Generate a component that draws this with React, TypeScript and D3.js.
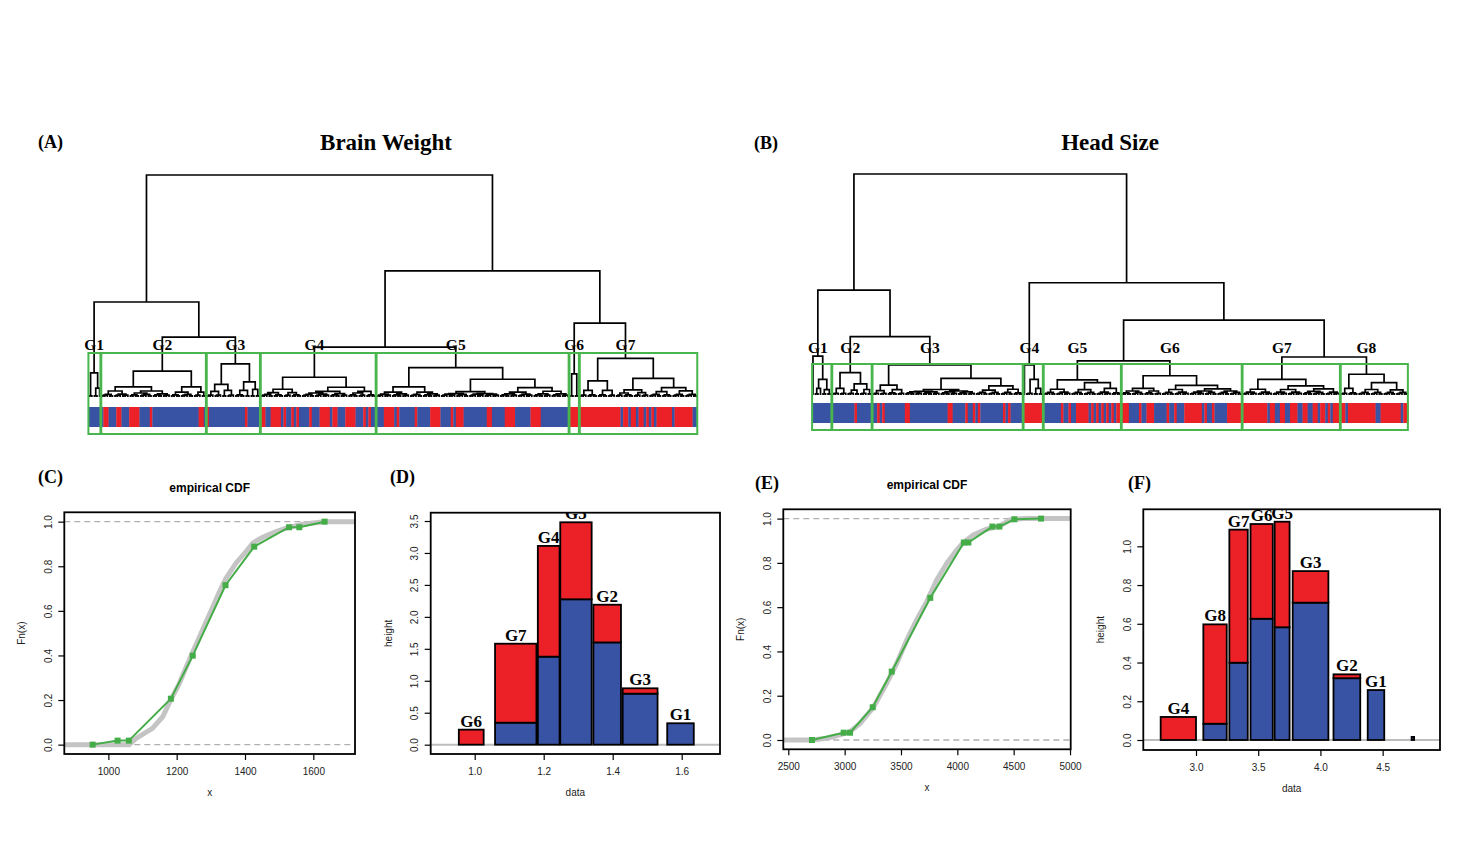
import { useEffect, useRef } from 'react'
import * as d3 from 'd3'

// a tree node is a tuft of n leaves (number), a cluster name (string), or [height, left, right]
type TreeNode = number | string | [number, TreeNode, TreeNode]

const RED = '#ec2027'
const BLUE = '#3953a4'
const BOX_GREEN = '#49b54d'
const LINE_GREEN = '#45ad48'
const SERIF = "'Liberation Serif', 'Times New Roman', serif"
const SANS = "'Liberation Sans', Arial, Helvetica, sans-serif"

// merge heights inside the small leaf tufts, indexed by tuft size
const tuftHeights = [0, 0, 0.5, 0.8, 1.0, 1.15, 1.3, 1.4]

// ---------- (A) brain weight clustering ----------
const groupNamesA = ['G1', 'G2', 'G3', 'G4', 'G5', 'G6', 'G7']
const upperTreeA: TreeNode = [100, [42.8, 'G1', [27, 'G2', 'G3']], [56.8, [22.5, 'G4', 'G5'], [33.3, 'G6', 'G7']]]
const subtreesA: TreeNode[] = [
  [10.9, 2, [4, 2, 1]],
  [11.7, [4.6, [2.7, 5, 6], [2.7, [1.8, 4, 5], 7]], [4.6, [2.2, 4, 5], [2.2, 3, 2]]],
  [14.9, [5.7, [2.5, 3, 3], [3.0, 2, 3]], [6.8, [3.0, 4, 2], [3.4, 2, 2]]],
  [8.9, [3.5, [2.0, 5, 4], [2.0, 3, 4]], [4.4, [2.5, [1.8, 5, 6], [1.5, 4, 3]], [2.5, [1.8, 4, 3], 4]]],
  [13.2, [4.6, [2.2, 6, 7], [2.2, 5, 7]], [8.0, [2.4, [1.5, 6, 5], [1.5, 6, 6]], [4.2, [2.2, 7, 6], [2.6, 7, 7]]]],
  [10.4, 2, 2],
  [17.4, [7.3, [3.0, 3, 4], [3.0, 4, 3]], [8.4, [3.2, [1.8, 3, 4], [2.0, 3, 3]], [4.2, [2.4, 5, 4], [2.8, 5, 5]]]],
]
// sex of each leaf as alternating run lengths, starting with blue
const stripRunsA = [
  6, 2, 3, 2, 3, 4, 4, 1, 18, 2, 1, 1, 14, 1, 5, 2, 2, 4, 1, 1, 2, 1, 1, 1, 4, 1, 3, 4, 1, 2, 3, 4, 3, 1, 1, 1, 5,
  4, 1, 1, 6, 1, 5, 4, 4, 1, 1, 3, 9, 2, 5, 4, 6, 4, 11, 20, 1, 2, 1, 2, 1, 2, 1, 1, 1, 1, 1, 6, 1, 7, 2,
]

// ---------- (B) head size clustering ----------
const groupNamesB = ['G1', 'G2', 'G3', 'G4', 'G5', 'G6', 'G7', 'G8']
const upperTreeB: TreeNode = [100, [47.5, 'G1', [26.4, 'G2', 'G3']], [50.8, 'G4', [33.9, [15.4, 'G5', 'G6'], [17.2, 'G7', 'G8']]]]
const subtreesB: TreeNode[] = [
  [17.6, 1, [7.1, [3.0, 2, 1], [2.4, 2, 2]]],
  [10.1, [3.0, 3, 3], [5.0, [2.2, 3, 2], [2.5, 3, 2]]],
  [13.6, [4.5, [2.0, 3, 3], [2.4, 4, 3]], [7.5, [2.5, [1.6, 7, 7], [1.8, 7, 7]], [4.1, [2.2, 5, 5], [2.6, 5, 4]]]],
  [13.6, 1, [7.1, 3, [3.0, 2, 2]]],
  [6.8, [2.6, 5, 6], [5.6, [2.4, 5, 5], [3.0, 6, 4]]],
  [8.7, [3.0, [1.8, 4, 5], [1.8, 4, 3]], [4.4, [2.5, 5, 6], [2.8, [1.8, 6, 5], [1.8, 5, 5]]]],
  [7.1, [2.6, 6, 6], [4.1, [2.5, 6, 6], [2.8, [1.6, 4, 5], 6]]],
  [9.4, [3.0, 3, 4], [5.6, [2.5, 5, 5], [2.3, 5, 5]]],
]
const stripRunsB = [
  17, 1, 8, 1, 1, 1, 8, 2, 15, 2, 5, 1, 2, 1, 1, 1, 9, 1, 1, 1, 5, 8, 7, 1, 2, 1, 2, 5, 1, 1, 1, 1, 1, 1, 1, 1, 1, 1,
  1, 5, 4, 1, 2, 3, 5, 1, 2, 1, 3, 7, 1, 1, 2, 1, 5, 16, 1, 2, 2, 2, 2, 3, 2, 2, 2, 2, 1, 2, 1, 1, 1, 5, 1, 11, 2, 8, 1, 2,
]

// ---------- (C) empirical CDF, brain weight ----------
const ecdfXC = [1061, 1081, 1129, 1159, 1178, 1208, 1227, 1247, 1266, 1286, 1305, 1325, 1344, 1374, 1403, 1423, 1452, 1491, 1530, 1569, 1631]
const ecdfYC = [0, 0.028, 0.073, 0.125, 0.186, 0.275, 0.345, 0.415, 0.48, 0.55, 0.615, 0.685, 0.745, 0.815, 0.865, 0.905, 0.93, 0.955, 0.975, 0.988, 1.0]
const groupCdfXC = [954, 1027, 1060, 1183, 1247, 1343, 1427, 1529, 1559, 1633]
const groupCdfYC = [0, 0.018, 0.018, 0.206, 0.399, 0.715, 0.888, 0.975, 0.975, 1.0]
const xTicksC = [1000, 1200, 1400, 1600]

// ---------- (D) group heights, brain weight ----------
const barLabelsD = ['G6', 'G7', 'G4', 'G5', 'G2', 'G3', 'G1']
const barLowD = [0.954, 1.059, 1.183, 1.248, 1.344, 1.429, 1.558]
const barHighD = [1.026, 1.179, 1.246, 1.339, 1.424, 1.53, 1.635]
const barTotalD = [0.235, 1.58, 3.11, 3.48, 2.19, 0.882, 0.335]
const barBlueD = [0, 0.344, 1.377, 2.275, 1.6, 0.798, 0.335]
const xTicksD = [1.0, 1.2, 1.4, 1.6]
const yTicksD = [0, 0.5, 1.0, 1.5, 2.0, 2.5, 3.0, 3.5]

// ---------- (E) empirical CDF, head size ----------
const ecdfXE = [2710, 2841, 2959, 3048, 3137, 3255, 3373, 3462, 3551, 3639, 3728, 3817, 3906, 3994, 4053, 4142, 4260, 4379, 4467, 4586]
const ecdfYE = [0, 0.008, 0.023, 0.038, 0.075, 0.148, 0.256, 0.346, 0.452, 0.542, 0.625, 0.723, 0.798, 0.858, 0.892, 0.926, 0.952, 0.967, 0.994, 1.0]
const groupCdfXE = [2710, 2991, 3048, 3249, 3418, 3760, 4058, 4098, 4311, 4373, 4506, 4743]
const groupCdfYE = [0, 0.033, 0.033, 0.148, 0.309, 0.642, 0.892, 0.892, 0.964, 0.964, 0.997, 1.0]
const xTicksE = [2500, 3000, 3500, 4000, 4500, 5000]

// ---------- (F) group heights, head size ----------
const barLabelsF = ['G4', 'G8', 'G7', 'G6', 'G5', 'G3', 'G2', 'G1', '']
const barLowF = [2.716, 3.059, 3.268, 3.438, 3.632, 3.777, 4.105, 4.38, 4.733]
const barHighF = [3.0, 3.247, 3.416, 3.617, 3.752, 4.064, 4.32, 4.513, 4.753]
const barTotalF = [0.119, 0.597, 1.086, 1.115, 1.127, 0.872, 0.339, 0.258, 0.016]
const barBlueF = [0, 0.084, 0.399, 0.626, 0.582, 0.709, 0.319, 0.258, 0.016]
const xTicksF = [3.0, 3.5, 4.0, 4.5]
const yTicksF = [0, 0.2, 0.4, 0.6, 0.8, 1.0]

const cdfTicks = [0, 0.2, 0.4, 0.6, 0.8, 1.0]

type Sel = d3.Selection<SVGGElement, unknown, null, undefined>
interface Rect { left: number; right: number; top: number; bottom: number }

function layoutTree(top: TreeNode, names: string[], subtrees: TreeNode[]) {
  let leaf = 0
  const links: { h: number; l: { x: number; h: number }; r: { x: number; h: number } }[] = []
  const groups: { name: string; start: number; count: number; x: number }[] = []
  const build = (node: TreeNode): { x: number; h: number } => {
    if (typeof node === 'string') {
      const start = leaf
      const res = build(subtrees[names.indexOf(node)])
      groups.push({ name: node, start, count: leaf - start, x: res.x })
      return res
    }
    if (typeof node === 'number') {
      if (node <= 1) {
        leaf += 1
        return { x: leaf, h: 0 }
      }
      const a = Math.ceil(node / 2)
      const l = build(a)
      const r = build(node - a)
      const h = tuftHeights[Math.min(node, tuftHeights.length - 1)]
      links.push({ h, l, r })
      return { x: (l.x + r.x) / 2, h }
    }
    const [h, a, b] = node
    const l = build(a)
    const r = build(b)
    links.push({ h, l, r })
    return { x: (l.x + r.x) / 2, h }
  }
  build(top)
  return { links, groups, n: leaf }
}

function drawDendrogram(
  svg: Sel,
  o: {
    tree: TreeNode; names: string[]; subtrees: TreeNode[]; runs: number[]
    x0: number; x1: number; base: number; top: number
    stripTop: number; stripBottom: number; boxTop: number; boxBottom: number; labelY: number
  },
) {
  const { links, groups, n } = layoutTree(o.tree, o.names, o.subtrees)
  const x = d3.scaleLinear().domain([0.5, n + 0.5]).range([o.x0, o.x1])
  const y = d3.scaleLinear().domain([0, 100]).range([o.base, o.top])
  const g = svg.append('g')

  // colour bar under the leaves
  let pos = 0
  o.runs.forEach((len, i) => {
    g.append('rect')
      .attr('x', x(pos + 0.5))
      .attr('y', o.stripTop)
      .attr('width', x(pos + len + 0.5) - x(pos + 0.5) + 0.3)
      .attr('height', o.stripBottom - o.stripTop)
      .attr('fill', i % 2 === 0 ? BLUE : RED)
    pos += len
  })

  const d = links
    .map((k) => `M${x(k.l.x)},${y(k.l.h)}V${y(k.h)}H${x(k.r.x)}V${y(k.r.h)}`)
    .join('')
  g.append('path').attr('d', d).attr('fill', 'none').attr('stroke', '#000').attr('stroke-width', 1.7)

  // cluster rectangles and names
  groups.forEach((gr) => {
    g.append('rect')
      .attr('x', x(gr.start + 0.66))
      .attr('y', o.boxTop)
      .attr('width', x(gr.start + gr.count + 0.33) - x(gr.start + 0.66))
      .attr('height', o.boxBottom - o.boxTop)
      .attr('fill', 'none')
      .attr('stroke', BOX_GREEN)
      .attr('stroke-width', 2)
    g.append('text')
      .attr('x', x(gr.x))
      .attr('y', o.labelY)
      .attr('text-anchor', 'middle')
      .attr('font-family', SERIF)
      .attr('font-weight', 'bold')
      .attr('font-size', 15.5)
      .text(gr.name)
  })
}

function drawAxes(
  g: Sel,
  x: d3.ScaleLinear<number, number>,
  y: d3.ScaleLinear<number, number>,
  r: Rect,
  xTicks: number[],
  yTicks: number[],
  xFmt: (v: number) => string,
  xTitle: string,
  yTitle: string,
) {
  const ax = g
    .append('g')
    .attr('transform', `translate(0,${r.bottom})`)
    .call(d3.axisBottom(x).tickValues(xTicks).tickFormat((v) => xFmt(+v)).tickSizeInner(6).tickSizeOuter(0).tickPadding(8))
  ax.select('.domain').remove()
  ax.attr('font-family', SANS).attr('font-size', 10)
  ax.selectAll('line').attr('stroke', '#000').attr('stroke-width', 1.2)
  ax.selectAll('text').attr('fill', '#222')

  const ay = g
    .append('g')
    .attr('transform', `translate(${r.left},0)`)
    .call(d3.axisLeft(y).tickValues(yTicks).tickFormat((v) => d3.format('.1f')(+v)).tickSizeInner(6).tickSizeOuter(0))
  ay.select('.domain').remove()
  ay.attr('font-family', SANS).attr('font-size', 10)
  ay.selectAll('line').attr('stroke', '#000').attr('stroke-width', 1.2)
  ay.selectAll('text')
    .attr('x', 0)
    .attr('dy', null)
    .attr('y', -12.5)
    .attr('transform', 'rotate(-90)')
    .attr('text-anchor', 'middle')
    .attr('fill', '#222')

  g.append('rect')
    .attr('x', r.left)
    .attr('y', r.top)
    .attr('width', r.right - r.left)
    .attr('height', r.bottom - r.top)
    .attr('fill', 'none')
    .attr('stroke', '#000')
    .attr('stroke-width', 1.8)

  const cx = (r.left + r.right) / 2
  const cy = (r.top + r.bottom) / 2
  g.append('text')
    .attr('x', cx)
    .attr('y', r.bottom + 42)
    .attr('text-anchor', 'middle')
    .attr('font-family', SANS)
    .attr('font-size', 10)
    .attr('fill', '#222')
    .text(xTitle)
  g.append('text')
    .attr('transform', `translate(${r.left - 39},${cy}) rotate(-90)`)
    .attr('text-anchor', 'middle')
    .attr('font-family', SANS)
    .attr('font-size', 10)
    .attr('fill', '#222')
    .text(yTitle)
}

function clipFor(svg: Sel, id: string, r: Rect) {
  svg.append('clipPath').attr('id', id)
    .append('rect').attr('x', r.left).attr('y', r.top).attr('width', r.right - r.left).attr('height', r.bottom - r.top)
}

function drawEcdf(
  svg: Sel,
  o: { id: string; rect: Rect; xDomain: [number, number]; kx: number[]; ky: number[]; gx: number[]; gy: number[]; xTicks: number[] },
) {
  const r = o.rect
  const x = d3.scaleLinear().domain(o.xDomain).range([r.left, r.right])
  const y = d3.scaleLinear().domain([-0.042, 1.042]).range([r.bottom, r.top])
  clipFor(svg, o.id, r)
  const g = svg.append('g')
  const plot = g.append('g').attr('clip-path', `url(#${o.id})`)

  ;[0, 1].forEach((v) =>
    plot.append('line')
      .attr('x1', r.left).attr('x2', r.right).attr('y1', y(v)).attr('y2', y(v))
      .attr('stroke', '#b0b0b0').attr('stroke-width', 1.4).attr('stroke-dasharray', '6 4'),
  )

  const gray: [number, number][] = [[o.xDomain[0], o.ky[0]]]
  o.kx.forEach((v, i) => gray.push([v, o.ky[i]]))
  gray.push([o.xDomain[1], o.ky[o.ky.length - 1]])
  const line = d3.line<[number, number]>().x((p) => x(p[0])).y((p) => y(p[1]))
  plot.append('path').attr('d', line(gray)).attr('fill', 'none').attr('stroke', '#c4c4c4').attr('stroke-width', 5)

  const pts: [number, number][] = o.gx.map((v, i) => [v, o.gy[i]])
  plot.append('path').attr('d', line(pts)).attr('fill', 'none').attr('stroke', LINE_GREEN).attr('stroke-width', 2)
  plot.selectAll('rect.pt')
    .data(pts)
    .join('rect')
    .attr('x', (p) => x(p[0]) - 3)
    .attr('y', (p) => y(p[1]) - 3)
    .attr('width', 6)
    .attr('height', 6)
    .attr('fill', LINE_GREEN)

  drawAxes(g, x, y, r, o.xTicks, cdfTicks, d3.format('d'), 'x', 'Fn(x)')
  g.append('text')
    .attr('x', (r.left + r.right) / 2)
    .attr('y', r.top - 20)
    .attr('text-anchor', 'middle')
    .attr('font-family', SANS)
    .attr('font-weight', 'bold')
    .attr('font-size', 12)
    .text('empirical CDF')
}

function drawBars(
  svg: Sel,
  o: {
    id: string; rect: Rect; xDomain: [number, number]; yDomain: [number, number]
    labels: string[]; lo: number[]; hi: number[]; total: number[]; blue: number[]; xTicks: number[]; yTicks: number[]
  },
) {
  const r = o.rect
  const x = d3.scaleLinear().domain(o.xDomain).range([r.left, r.right])
  const y = d3.scaleLinear().domain(o.yDomain).range([r.bottom, r.top])
  clipFor(svg, o.id, r)
  const g = svg.append('g')
  const plot = g.append('g').attr('clip-path', `url(#${o.id})`)

  plot.append('line')
    .attr('x1', r.left).attr('x2', r.right).attr('y1', y(0)).attr('y2', y(0))
    .attr('stroke', '#bdbdbd').attr('stroke-width', 2)

  o.labels.forEach((lab, i) => {
    const x0 = x(o.lo[i])
    const w = x(o.hi[i]) - x0
    if (o.blue[i] > 0) {
      plot.append('rect')
        .attr('x', x0).attr('y', y(o.blue[i])).attr('width', w).attr('height', y(0) - y(o.blue[i]))
        .attr('fill', BLUE).attr('stroke', '#000').attr('stroke-width', 1.8)
    }
    if (o.total[i] > o.blue[i]) {
      plot.append('rect')
        .attr('x', x0).attr('y', y(o.total[i])).attr('width', w).attr('height', y(o.blue[i]) - y(o.total[i]))
        .attr('fill', RED).attr('stroke', '#000').attr('stroke-width', 1.8)
    }
    if (lab) {
      plot.append('text')
        .attr('x', x((o.lo[i] + o.hi[i]) / 2))
        .attr('y', y(o.total[i]) - 3)
        .attr('text-anchor', 'middle')
        .attr('font-family', SERIF)
        .attr('font-weight', 'bold')
        .attr('font-size', 17)
        .text(lab)
    }
  })

  drawAxes(g, x, y, r, o.xTicks, o.yTicks, d3.format('.1f'), 'data', 'height')
}

function panelText(svg: Sel, txt: string, x: number, y: number, size: number, anchor = 'start') {
  svg.append('text')
    .attr('x', x).attr('y', y)
    .attr('text-anchor', anchor)
    .attr('font-family', SERIF)
    .attr('font-weight', 'bold')
    .attr('font-size', size)
    .text(txt)
}

export default function App() {
  const svgRef = useRef<SVGSVGElement>(null)

  useEffect(() => {
    if (!svgRef.current) return
    d3.select(svgRef.current).selectAll('*').remove()
    const svg = d3.select(svgRef.current).append('g') as Sel

    drawDendrogram(svg, {
      tree: upperTreeA, names: groupNamesA, subtrees: subtreesA, runs: stripRunsA,
      x0: 88, x1: 697.7, base: 397, top: 175,
      stripTop: 407, stripBottom: 427, boxTop: 353, boxBottom: 434, labelY: 350,
    })
    drawDendrogram(svg, {
      tree: upperTreeB, names: groupNamesB, subtrees: subtreesB, runs: stripRunsB,
      x0: 811.7, x1: 1408.3, base: 395, top: 174,
      stripTop: 403, stripBottom: 423, boxTop: 364, boxBottom: 430, labelY: 353,
    })

    drawEcdf(svg, {
      id: 'clipC', rect: { left: 64.3, right: 355, top: 512.3, bottom: 754 }, xDomain: [871, 1722],
      kx: ecdfXC, ky: ecdfYC, gx: groupCdfXC, gy: groupCdfYC, xTicks: xTicksC,
    })
    drawBars(svg, {
      id: 'clipD', rect: { left: 430.7, right: 720, top: 512.7, bottom: 754 },
      xDomain: [0.8725, 1.711], yDomain: [-0.146, 3.63],
      labels: barLabelsD, lo: barLowD, hi: barHighD, total: barTotalD, blue: barBlueD,
      xTicks: xTicksD, yTicks: yTicksD,
    })
    drawEcdf(svg, {
      id: 'clipE', rect: { left: 783.3, right: 1070.7, top: 509.3, bottom: 749.3 }, xDomain: [2455.6, 5006],
      kx: ecdfXE, ky: ecdfYE, gx: groupCdfXE, gy: groupCdfYE, xTicks: xTicksE,
    })
    drawBars(svg, {
      id: 'clipF', rect: { left: 1143.3, right: 1440, top: 509.3, bottom: 750 },
      xDomain: [2.5764, 4.961], yDomain: [-0.0516, 1.191],
      labels: barLabelsF, lo: barLowF, hi: barHighF, total: barTotalF, blue: barBlueF,
      xTicks: xTicksF, yTicks: yTicksF,
    })

    panelText(svg, '(A)', 38, 148, 18)
    panelText(svg, 'Brain Weight', 386, 150, 23, 'middle')
    panelText(svg, '(B)', 754, 149, 18)
    panelText(svg, 'Head Size', 1110, 150, 23, 'middle')
    panelText(svg, '(C)', 38, 483, 18)
    panelText(svg, '(D)', 390, 483, 18)
    panelText(svg, '(E)', 755, 489, 18)
    panelText(svg, '(F)', 1128, 489, 18)
  }, [])

  return (
    <svg
      ref={svgRef}
      width={1480}
      height={855}
      style={{ position: 'absolute', left: 0, top: 0, background: '#fff' }}
    />
  )
}
